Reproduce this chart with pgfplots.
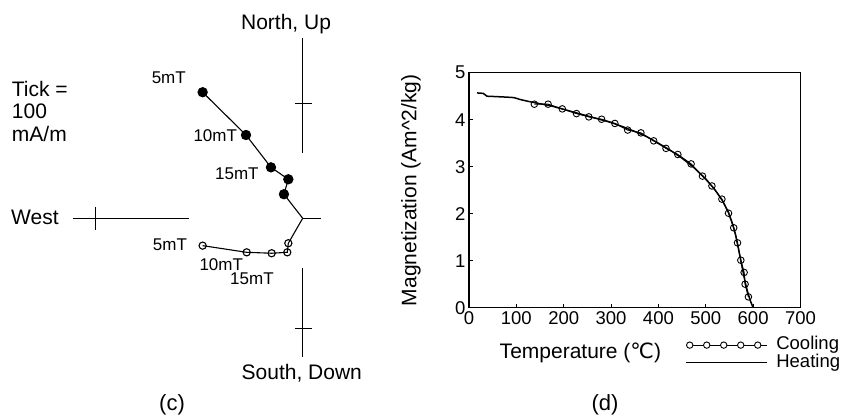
\documentclass[border=0pt]{standalone}
\usepackage{fontspec}
\setmainfont{Liberation Sans}
\newfontfamily\djv{DejaVu Sans}
\usepackage{pgfplots}
\usepackage{pgfplotstable}
\pgfplotsset{compat=1.18}

% (c) orthogonal projection, units of mA/m
\pgfplotstableread{
x y
-87.0 109.6
-49.3 72.4
-27.6 44.3
-12.5 33.9
-16.3 20.9
0 0
}\horiz
\pgfplotstableread{
x y
-87.0 -23.8
-48.7 -29.6
-27.0 -30.4
-13.4 -29.6
-12.5 -21.7
0 0
}\vert

% (d) thermomagnetic curve
\pgfplotstableread{
t m
138 4.33
167 4.33
197 4.23
227 4.13
253 4.06
280 4.01
308 3.92
335 3.78
363 3.72
390 3.55
416 3.39
441 3.26
469 3.06
493 2.80
513 2.59
534 2.31
548 2.01
559 1.70
567 1.38
574 1.01
581 0.75
583 0.50
590 0.23
}\cooling
\pgfplotstableread{
t m
17 4.57
30 4.56
38 4.50
60 4.49
80 4.48
95 4.47
108 4.43
125 4.39
150 4.34
175 4.29
200 4.22
225 4.15
250 4.08
275 4.01
300 3.94
325 3.85
350 3.75
375 3.64
400 3.50
425 3.35
450 3.18
475 2.98
500 2.74
520 2.50
535 2.28
548 2.03
556 1.80
563 1.55
568 1.30
573 1.05
578 0.80
583 0.55
588 0.35
594 0.15
600 0.00
}\heating

\begin{document}
\begin{tikzpicture}
\useasboundingbox (0,0) rectangle (841pt,420pt);

\begin{axis}[
    at={(0pt,0pt)}, anchor=south west,
    width=420pt, height=420pt, scale only axis,
    xmin=-263.2, xmax=102, ymin=-175.4, ymax=189.8,
    axis lines=none, clip=false,
]
    % axes of the projection
    \begin{scope}[line width=1.2pt]
    \draw (axis cs:0,156.5) -- (axis cs:0,56.5);
    \draw (axis cs:-6.7,100) -- (axis cs:7.8,100);
    \draw (axis cs:0,-43.5) -- (axis cs:0,-120.3);
    \draw (axis cs:-6.7,-95.7) -- (axis cs:7.8,-95.7);
    \draw (axis cs:-199.5,0) -- (axis cs:-98.9,0);
    \draw (axis cs:-180,10) -- (axis cs:-180,-10.2);
    \draw (axis cs:0,0) -- (axis cs:15.7,0);
    \end{scope}

    \addplot[black, line width=1.1pt, mark=*, mark size=4.6pt,
        mark indices={1,2,3,4,5}] table[x=x, y=y] {\horiz};
    \addplot[black, line width=1.1pt, mark=o, mark size=3.6pt,
        mark options={fill=white}, mark indices={1,2,3,4,5}] table[x=x, y=y] {\vert};

    \begin{scope}[font=\fontsize{21}{21}\selectfont]
    \node[anchor=base west, inner sep=0pt] at (axis cs:-53.7,164.3) {North, Up};
    \node[anchor=base west, inner sep=0pt] at (axis cs:-53.2,-140) {South, Down};
    \node[anchor=base west, inner sep=0pt] at (axis cs:-253.6,-5.8) {West};
    \node[anchor=base west, inner sep=0pt] at (axis cs:-253,106.3) {Tick =};
    \node[anchor=base west, inner sep=0pt] at (axis cs:-253,87.0) {100};
    \node[anchor=base west, inner sep=0pt] at (axis cs:-253,66.6) {mA/m};
    \end{scope}
    \begin{scope}[font=\fontsize{17}{17}\selectfont]
    \node[anchor=base west, inner sep=0pt] at (axis cs:-131.4,117.4) {5mT};
    \node[anchor=base west, inner sep=0pt] at (axis cs:-95.1,66.6) {10mT};
    \node[anchor=base west, inner sep=0pt] at (axis cs:-76.3,33.9) {15mT};
    \node[anchor=base west, inner sep=0pt] at (axis cs:-130.4,-27.6) {5mT};
    \node[anchor=base west, inner sep=0pt] at (axis cs:-89.9,-45.0) {10mT};
    \node[anchor=base west, inner sep=0pt] at (axis cs:-63.2,-58.0) {15mT};
    \end{scope}
\end{axis}

\begin{axis}[
    at={(469pt,112.3pt)}, anchor=south west,
    width=331.5pt, height=235pt, scale only axis,
    xmin=0, xmax=700, ymin=0, ymax=5,
    xtick={0,100,...,700}, ytick={0,1,...,5},
    tick pos=left, tick align=inside, major tick length=4pt,
    axis line style={line width=1.5pt},
    every tick/.style={black, line width=1pt},
    /pgf/number format/assume math mode=true,
    tick label style={font=\fontsize{18.5}{18.5}\selectfont},
    label style={font=\fontsize{21}{21}\selectfont},
    xlabel={Temperature ({\djv ℃})},
    ylabel={Magnetization (Am\textasciicircum 2/kg)},
    xlabel style={at={(axis description cs:0.336,-0.193)}, anchor=center},
    ylabel style={at={(axis description cs:-0.175,0.5)}, anchor=center},
    clip=false,
    reverse legend,
    legend cell align=left,
    legend style={at={(axis description cs:0.652,-0.122)}, anchor=north west,
        draw=none, fill=none, inner sep=0pt, outer sep=0pt,
        font=\fontsize{18.5}{18.5}\selectfont,
        nodes={inner sep=0pt, text height=13.5pt, text depth=4pt},
        row sep=0pt, column sep=0pt},
]
    \addplot[black, line width=1.5pt, mark=none,
        legend image code/.code={\draw[black, line width=1.2pt] (0pt,0pt) -- (81pt,0pt);}]
        table[x=t, y=m] {\heating};
    \addlegendentry{\hspace{9pt}Heating}
    \addplot[black, line width=1pt, mark=o, mark size=3.3pt,
        mark options={fill=white, line width=0.9pt},
        legend image code/.code={\draw[black, line width=1pt] (0pt,0pt) -- (81pt,0pt);
            \foreach \x in {4,21,38,55,72} {\draw[black, fill=white, line width=0.9pt] (\x pt,0pt) circle (3.2pt);}}]
        table[x=t, y=m] {\cooling};
    \addlegendentry{\hspace{9pt}Cooling}
\end{axis}

\node[font=\fontsize{22}{22}\selectfont] at (172pt,15pt) {(c)};
\node[font=\fontsize{22}{22}\selectfont] at (605pt,15pt) {(d)};
\end{tikzpicture}
\end{document}
